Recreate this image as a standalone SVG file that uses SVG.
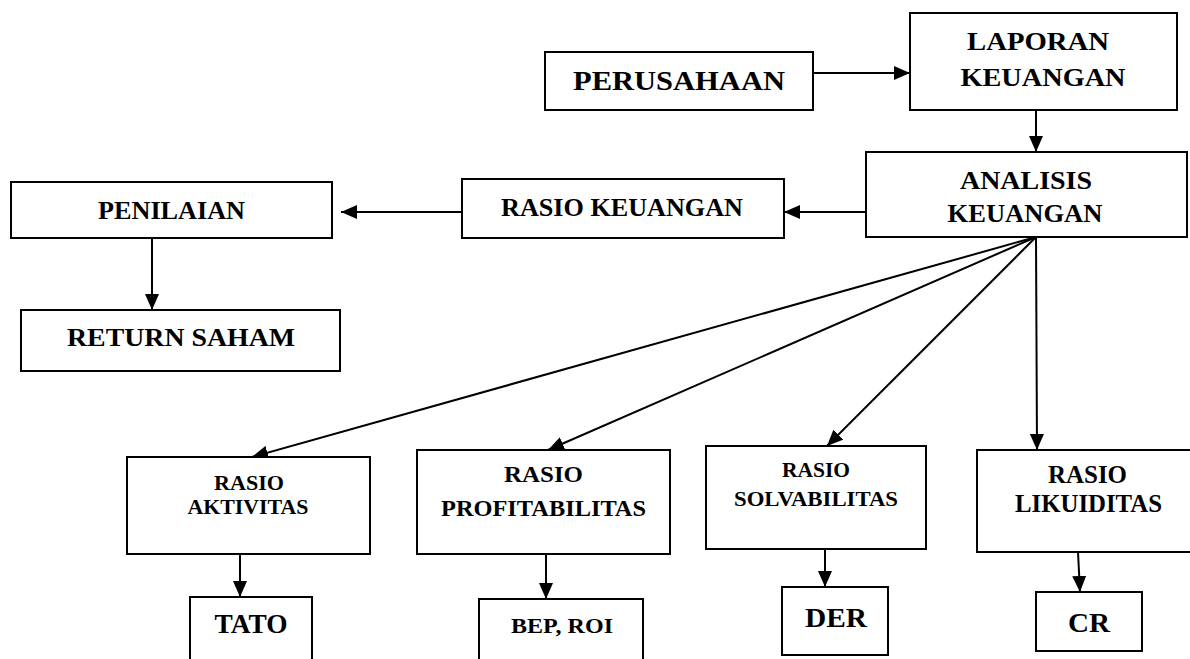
<svg xmlns="http://www.w3.org/2000/svg" width="1190" height="659" viewBox="0 0 1190 659">
<defs>
<style>
.box{fill:#fff;stroke:#000;stroke-width:2}
.t{font-family:"Liberation Serif","Times New Roman",serif;font-weight:bold;fill:#000;text-anchor:middle}
.c{stroke:#000;stroke-width:2;fill:none;marker-end:url(#ah)}
</style>
<marker id="ah" markerUnits="userSpaceOnUse" markerWidth="16" markerHeight="14" refX="16" refY="7" orient="auto">
<path d="M0,0 L16,7 L0,14 z" fill="#000"/>
</marker>
</defs>
<rect width="1190" height="659" fill="#fff"/>
<g id="connectors">
<line class="c" x1="813" y1="73" x2="910" y2="73"/>
<line class="c" x1="1036" y1="110" x2="1036" y2="152"/>
<line class="c" x1="866" y1="212" x2="784" y2="212"/>
<line class="c" x1="462" y1="212" x2="341" y2="212"/>
<line class="c" x1="152" y1="238" x2="152" y2="310"/>
<line class="c" x1="1036" y1="237" x2="252" y2="457"/>
<line class="c" x1="1036" y1="237" x2="548" y2="450"/>
<line class="c" x1="1036" y1="237" x2="827" y2="446"/>
<line class="c" x1="1036" y1="237" x2="1037" y2="450"/>
<line class="c" x1="240" y1="548" x2="240" y2="597"/>
<line class="c" x1="546" y1="554" x2="546" y2="599"/>
<line class="c" x1="825" y1="549" x2="825" y2="587"/>
<line class="c" x1="1078" y1="552" x2="1080" y2="592"/>
</g>
<g id="perusahaan"><rect class="box" x="545" y="52" width="268" height="58"/><text class="t" x="679" y="90" font-size="28" textLength="212" lengthAdjust="spacingAndGlyphs">PERUSAHAAN</text></g>
<g id="laporan"><rect class="box" x="910" y="13" width="267" height="97"/><text class="t" x="1038" y="50" font-size="26" textLength="142" lengthAdjust="spacingAndGlyphs">LAPORAN</text><text class="t" x="1043" y="86" font-size="26" textLength="165" lengthAdjust="spacingAndGlyphs">KEUANGAN</text></g>
<g id="analisis"><rect class="box" x="866" y="152" width="321" height="85"/><text class="t" x="1026" y="189" font-size="26" textLength="132" lengthAdjust="spacingAndGlyphs">ANALISIS</text><text class="t" x="1025" y="222" font-size="26" textLength="155" lengthAdjust="spacingAndGlyphs">KEUANGAN</text></g>
<g id="rasio-keuangan"><rect class="box" x="462" y="179" width="322" height="59"/><text class="t" x="622" y="216" font-size="25" textLength="242" lengthAdjust="spacingAndGlyphs">RASIO KEUANGAN</text></g>
<g id="penilaian"><rect class="box" x="11" y="182" width="321" height="56"/><text class="t" x="171.5" y="219" font-size="25" textLength="147" lengthAdjust="spacingAndGlyphs">PENILAIAN</text></g>
<g id="return-saham"><rect class="box" x="21" y="310" width="319" height="61"/><text class="t" x="181" y="346" font-size="25" textLength="228" lengthAdjust="spacingAndGlyphs">RETURN SAHAM</text></g>
<g id="rasio-aktivitas"><rect class="box" x="127" y="457" width="243" height="97"/><text class="t" x="249" y="490" font-size="21" textLength="70" lengthAdjust="spacingAndGlyphs">RASIO</text><text class="t" x="248" y="514" font-size="21" textLength="121" lengthAdjust="spacingAndGlyphs">AKTIVITAS</text></g>
<g id="rasio-profitabilitas"><rect class="box" x="417" y="450" width="253" height="104"/><text class="t" x="543.5" y="482" font-size="24" textLength="79" lengthAdjust="spacingAndGlyphs">RASIO</text><text class="t" x="543.5" y="516" font-size="24" textLength="205" lengthAdjust="spacingAndGlyphs">PROFITABILITAS</text></g>
<g id="rasio-solvabilitas"><rect class="box" x="706" y="446" width="220" height="103"/><text class="t" x="816" y="477" font-size="20" textLength="68" lengthAdjust="spacingAndGlyphs">RASIO</text><text class="t" x="816" y="506" font-size="20" textLength="164" lengthAdjust="spacingAndGlyphs">SOLVABILITAS</text></g>
<g id="rasio-likuiditas"><rect class="box" x="977" y="450" width="230" height="102"/><text class="t" x="1087.5" y="483" font-size="25" textLength="79" lengthAdjust="spacingAndGlyphs">RASIO</text><text class="t" x="1088.5" y="512" font-size="25" textLength="147" lengthAdjust="spacingAndGlyphs">LIKUIDITAS</text></g>
<g id="tato"><rect class="box" x="190" y="597" width="122" height="80"/><text class="t" x="251" y="633" font-size="27" textLength="73" lengthAdjust="spacingAndGlyphs">TATO</text></g>
<g id="bep-roi"><rect class="box" x="479" y="599" width="164" height="80"/><text class="t" x="562" y="633" font-size="22" textLength="102" lengthAdjust="spacingAndGlyphs">BEP, ROI</text></g>
<g id="der"><rect class="box" x="782" y="587" width="106" height="68"/><text class="t" x="836" y="627" font-size="28" textLength="62" lengthAdjust="spacingAndGlyphs">DER</text></g>
<g id="cr"><rect class="box" x="1036" y="592" width="106" height="59"/><text class="t" x="1089" y="632" font-size="28" textLength="42" lengthAdjust="spacingAndGlyphs">CR</text></g>
</svg>
